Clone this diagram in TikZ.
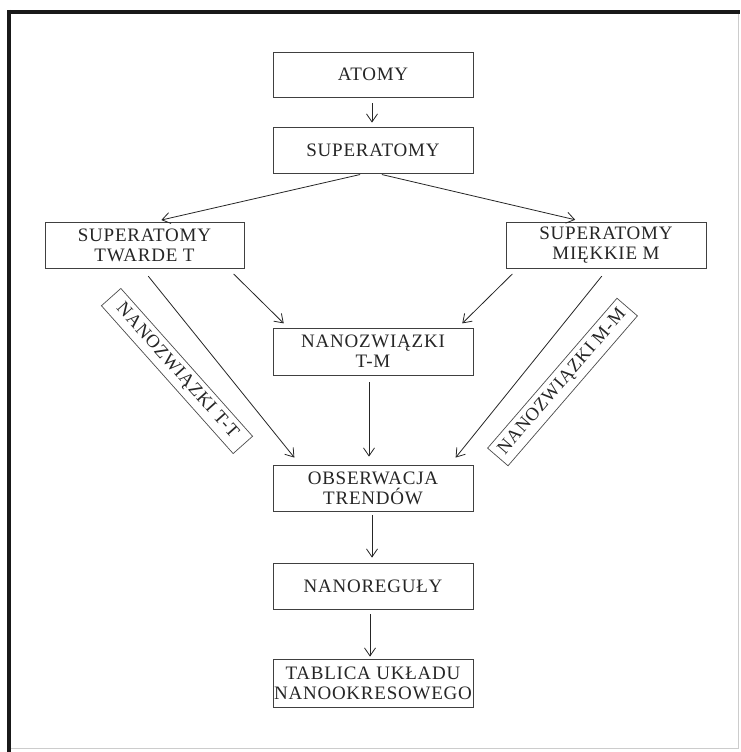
\documentclass[tikz,border=0pt]{standalone}
\usepackage{fontspec}
\setmainfont[LetterSpace=4]{Liberation Serif}
\usetikzlibrary{arrows.meta}
\begin{document}
\begin{tikzpicture}[x=1pt,y=-1pt,
  box/.style={draw=black!75,line width=0.8pt,text=black!85,minimum width=200pt,minimum height=46pt,inner sep=0pt,align=center,font=\fontsize{19}{20}\selectfont},
  tag/.style={draw=black!70,line width=0.7pt,text=black!85,minimum width=198pt,minimum height=26pt,inner sep=0pt,font=\fontsize{18.5}{20}\selectfont},
  conn/.style={draw=black!85,line width=0.8pt,-{Straight Barb[length=8pt,width=11pt,line width=0.8pt]}}]
\useasboundingbox (0,0) rectangle (740,752);
\fill[white] (0,0) rectangle (740,752);
% frame
\draw[black!90,line width=3.5pt] (7,12) -- (740,12);
\draw[black!90,line width=3.5pt] (9,10) -- (9,752);
\draw[black!20,line width=1pt] (738,14) -- (738,748) -- (11,748);
% nodes
\node[box,minimum height=45pt] (at) at (373,74.5) {ATOMY};
\node[box] (sa) at (373,150) {SUPERATOMY};
\node[box,minimum width=199pt] (t) at (144.5,245) {SUPERATOMY\\TWARDE T};
\node[box] (m) at (606,245) {SUPERATOMY\\MIĘKKIE M};
\node[box,minimum height=47pt] (tm) at (373,351.5) {NANOZWIĄZKI\\T-M};
\node[box] (obs) at (373,488) {OBSERWACJA\\TRENDÓW};
\node[box] (nr) at (373,586) {NANOREGUŁY};
\node[box,minimum height=48pt] (tab) at (373,683) {TABLICA UKŁADU\\NANOOKRESOWEGO};
\node[tag,rotate=-48.3] (tt) at (177,371) {NANOZWIĄZKI T-T};
\node[tag,rotate=49.2,minimum height=27pt] (mm) at (562.5,382) {NANOZWIĄZKI M-M};
% connectors
\draw[conn,shorten <=6pt,shorten >=4pt] ([xshift=-1pt]at.south) -- ([xshift=-1pt]sa.north);
\draw[conn,shorten <=5pt,shorten >=7pt] ([xshift=-8pt]sa.south) -- ([xshift=10pt]t.north);
\draw[conn,shorten <=5pt,shorten >=8pt] ([xshift=4pt]sa.south) -- ([xshift=-23pt]m.north);
\draw[conn,shorten <=8pt,shorten >=6pt] ([xshift=83.5pt]t.south) -- ([xshift=-85pt]tm.north);
\draw[conn,shorten <=8pt,shorten >=6pt] ([xshift=-88pt]m.south) -- ([xshift=85pt]tm.north);
\draw[conn,shorten <=10pt,shorten >=9pt] ([xshift=-2.5pt]t.south) -- ([xshift=-73pt]obs.north);
\draw[conn,shorten <=10pt,shorten >=9pt] ([xshift=2pt]m.south) -- ([xshift=77pt]obs.north);
\draw[conn,shorten <=7pt,shorten >=8pt] ([xshift=-4pt]tm.south) -- ([xshift=-4pt]obs.north);
\draw[conn,shorten <=4pt,shorten >=5pt] ([xshift=-1pt]obs.south) -- ([xshift=-1pt]nr.north);
\draw[conn,shorten <=5pt,shorten >=2pt] ([xshift=-3pt]nr.south) -- ([xshift=-3pt]tab.north);
\end{tikzpicture}
\end{document}
